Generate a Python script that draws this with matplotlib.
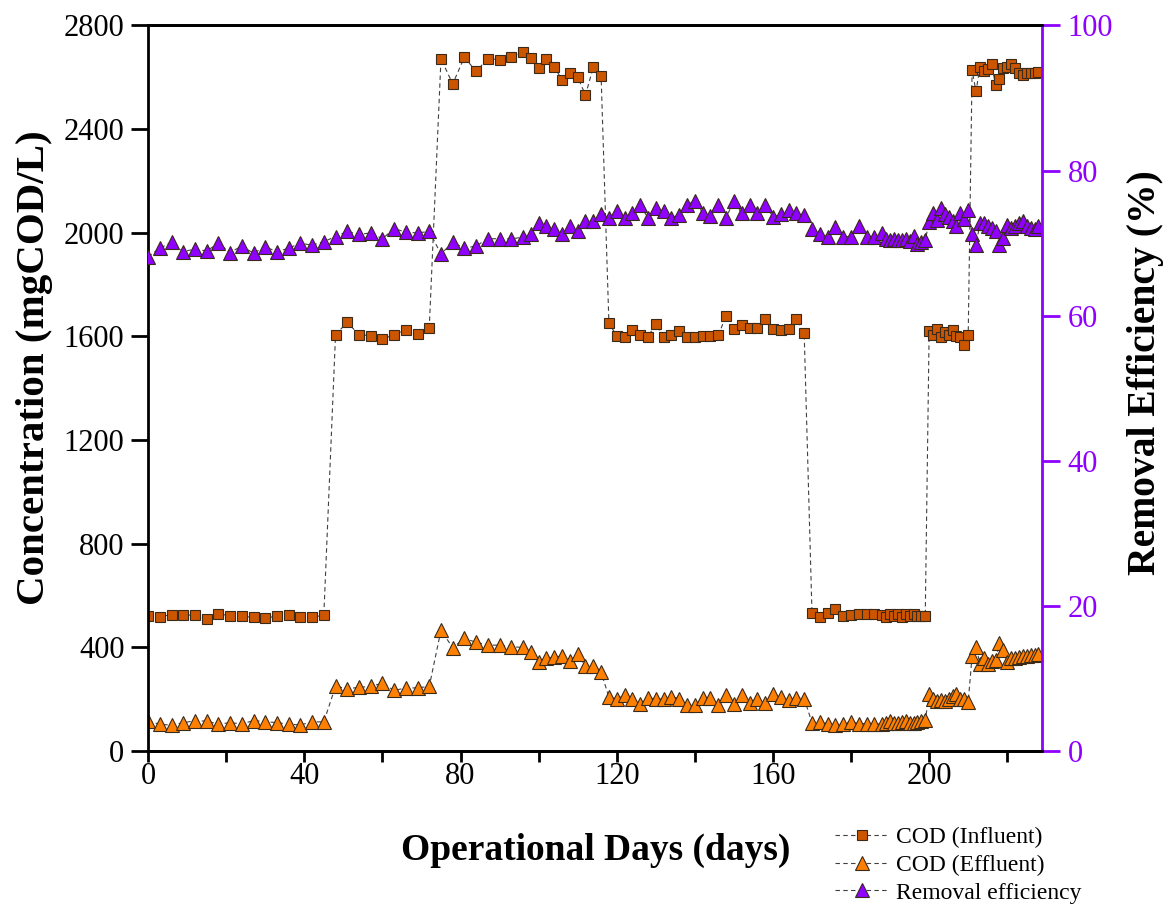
import matplotlib
matplotlib.use("Agg")
import matplotlib.pyplot as plt
from matplotlib.ticker import MultipleLocator

plt.rcParams['font.family'] = ['Liberation Serif', 'DejaVu Serif']

# operational days (x) shared by all three series
days = [0, 3, 6, 9, 12, 15, 18, 21, 24, 27, 30, 33, 36, 39, 42, 45,
        48, 51, 54, 57, 60, 63, 66, 69, 72,
        75, 78, 81, 84, 87, 90, 93, 96, 98, 100, 102, 104, 106, 108, 110, 112, 114, 116,
        118, 120, 122, 124, 126, 128, 130, 132, 134, 136, 138, 140, 142, 144, 146, 148,
        150, 152, 154, 156, 158, 160, 162, 164, 166, 168,
        170, 172, 174, 176, 178, 180, 182, 184, 186, 188,
        189, 190, 191, 192, 193, 194, 195, 196, 197, 198, 199,
        200, 201, 202, 203, 204, 205, 206, 207, 208, 209, 210,
        211, 212, 213, 214, 215, 216, 217, 218, 219, 220, 221, 222, 223, 224, 225, 226, 227, 228]

cod_in = [520, 518, 527, 526, 524, 510, 530, 522, 520, 516, 512, 522, 526, 518, 516, 525,
          1606, 1655, 1606, 1603, 1590, 1606, 1625, 1608, 1634,
          2671, 2574, 2677, 2622, 2672, 2667, 2677, 2699, 2673, 2637, 2670, 2639, 2590, 2616, 2600, 2531, 2639, 2605,
          1651, 1602, 1597, 1625, 1606, 1599, 1648, 1597, 1606, 1621, 1599, 1599, 1602, 1603, 1604, 1679,
          1628, 1644, 1631, 1631, 1666, 1628, 1625, 1628, 1666, 1612,
          534, 518, 534, 548, 521, 527, 529, 529, 529, 525,
          518, 529, 521, 529, 518, 529, 521, 529, 521, 521, 521,
          1622, 1605, 1627, 1599, 1618, 1605, 1625, 1602, 1599, 1567, 1605,
          2626, 2545, 2639, 2622, 2631, 2651, 2570, 2592, 2635, 2641, 2651, 2635, 2616, 2609, 2616, 2618, 2616, 2620]

cod_out = [115, 104, 100, 110, 117, 116, 104, 110, 105, 118, 114, 110, 104, 101, 113, 113,
           250, 241, 246, 250, 262, 234, 244, 244, 250,
           467, 399, 435, 420, 409, 409, 403, 400, 381, 345, 358, 362, 368, 347, 373, 329, 329, 304,
           209, 201, 216, 201, 180, 206, 201, 201, 209, 203, 177, 177, 206, 206, 177, 216,
           180, 216, 184, 201, 184, 220, 209, 197, 206, 203,
           110, 114, 106, 99, 106, 114, 106, 106, 103, 106,
           110, 116, 110, 110, 114, 116, 110, 110, 114, 116, 119,
           219, 203, 193, 197, 193, 203, 213, 219, 203, 201, 190,
           368, 402, 338, 360, 338, 347, 351, 416, 390, 345, 358, 360, 364, 366, 368, 370, 370, 373]

removal = [68.1, 69.3, 70.1, 68.8, 69.2, 68.9, 70.0, 68.7, 69.6, 68.6, 69.5, 68.8, 69.3, 70.0, 69.7, 70.2,
           70.9, 71.6, 71.2, 71.4, 70.6, 72.0, 71.5, 71.4, 71.6,
           68.5, 70.1, 69.3, 69.6, 70.6, 70.6, 70.6, 70.8, 71.3, 72.8, 72.4, 71.9, 71.3, 72.3, 71.6, 73.0, 73.1, 74.0,
           73.5, 74.4, 73.5, 74.1, 75.2, 73.5, 74.8, 74.4, 73.5, 73.9, 75.3, 75.8, 74.2, 73.7, 75.3, 73.5,
           75.8, 74.1, 75.3, 74.1, 75.3, 73.6, 74.0, 74.6, 74.1, 73.9,
           72.0, 71.2, 70.9, 72.2, 70.9, 70.9, 72.3, 70.9, 70.9, 71.4,
           70.6, 70.4, 70.6, 70.4, 70.4, 70.6, 70.3, 71.0, 69.9, 70.1, 70.4,
           72.9, 74.2, 73.2, 74.8, 74.0, 73.6, 73.1, 72.4, 74.2, 73.3, 74.6,
           71.2, 69.7, 72.7, 72.7, 72.4, 72.1, 71.7, 69.7, 70.7, 72.5, 72.1, 72.4, 72.7, 73.1, 72.4, 72.1, 72.0, 72.3]

purple = '#8F00FF'
line_kw = dict(linestyle='--', dashes=(4, 3), color='#404040', linewidth=0.8,
               markeredgecolor='#3a2a1a', markeredgewidth=0.8)

fig = plt.figure(figsize=(11.66, 9.05), dpi=100)
ax = fig.add_axes([0.127, 0.170, 0.767, 0.802])
ax2 = ax.twinx()

l1, = ax.plot(days, cod_in, marker='s', markersize=7.5, markerfacecolor='#CC5500',
              label='COD (Influent)', **line_kw)
l2, = ax.plot(days, cod_out, marker='^', markersize=9.5, markerfacecolor='#FF8000',
              label='COD (Effluent)', **line_kw)
l3, = ax2.plot(days, removal, marker='^', markersize=9.5, markerfacecolor=purple,
               label='Removal efficiency', **line_kw)

ax.set_xlim(0, 229)
ax.set_ylim(0, 2800)
ax2.set_ylim(0, 100)

ax.xaxis.set_major_locator(MultipleLocator(40))
ax.xaxis.set_minor_locator(MultipleLocator(20))
ax.yaxis.set_major_locator(MultipleLocator(400))
ax2.yaxis.set_major_locator(MultipleLocator(20))

ax.tick_params(axis='y', direction='out', length=12, width=2, labelsize=22, pad=5)
ax.tick_params(axis='x', which='both', direction='out', length=8, width=2,
               labelsize=22, pad=0)
ax2.tick_params(axis='y', direction='out', length=13, width=2, labelsize=22,
                colors=purple, pad=5)

for s in ['left', 'bottom', 'top']:
    ax.spines[s].set_linewidth(2)
ax2.spines['right'].set_color(purple)
ax2.spines['right'].set_linewidth(2)
ax2.spines['left'].set_visible(False)
ax2.spines['top'].set_linewidth(2)
ax2.spines['bottom'].set_linewidth(2)

ax.set_xlabel('Operational Days (days)', fontsize=27, fontweight='bold', labelpad=30)
ax.set_ylabel('Concentration (mgCOD/L)', fontsize=29.5, fontweight='bold', labelpad=8)
ax2.set_ylabel('Removal Efficiency (%)', fontsize=28.5, fontweight='bold', labelpad=10)
ax.yaxis.label.set_y(0.529)
ax2.yaxis.label.set_y(0.522)

fig.legend(handles=[l1, l2, l3], loc='upper left', bbox_to_anchor=(0.708, 0.097),
           frameon=False, fontsize=17, handlelength=2.3, labelspacing=0.26,
           handletextpad=0.3, borderaxespad=0)

fig.savefig('out.png', dpi=100)
